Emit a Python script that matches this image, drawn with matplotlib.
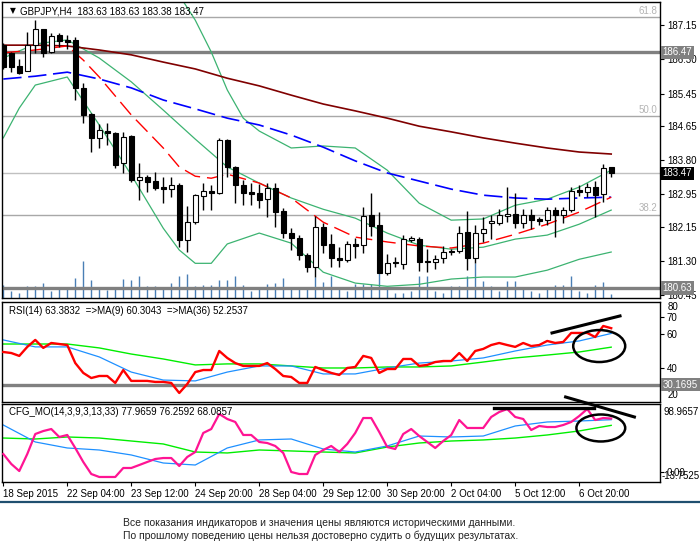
import numpy as np
import matplotlib
matplotlib.use("Agg")
import matplotlib.pyplot as plt
import matplotlib.transforms as mtransforms
from matplotlib.patches import Ellipse
from matplotlib.lines import Line2D

plt.rcParams['font.family'] = ['Liberation Sans', 'DejaVu Sans']

# ---- price data (GBPJPY H4) ----
opens = [186.65, 186.45, 186.13, 186.00, 186.65, 187.05, 186.48, 186.90, 186.77, 186.77,
         185.59, 184.94, 184.35, 184.52, 184.47, 183.73, 184.40, 183.30, 183.38, 183.28,
         183.13, 183.08, 183.18, 181.82, 182.26, 182.91, 183.03, 182.98, 184.30, 183.63,
         183.18, 183.00, 182.98, 182.83, 183.10, 182.53, 181.99, 181.86, 181.44, 181.14,
         182.14, 181.72, 181.37, 181.32, 181.72, 181.70, 182.43, 182.18, 180.99, 181.27,
         181.22, 181.82, 181.84, 181.30, 181.27, 181.37, 181.55, 181.54, 182.01, 181.37,
         181.99, 182.24, 182.24, 182.42, 182.46, 182.24, 182.44, 182.33, 182.31, 182.56,
         182.44, 182.56, 183.05, 183.00, 183.13, 182.96, 183.63]
highs = [186.70, 186.48, 186.30, 186.98, 187.27, 187.05, 186.96, 186.95, 186.90, 186.85,
         185.71, 184.97, 184.69, 184.72, 184.50, 184.50, 184.42, 183.73, 183.43, 183.50,
         183.38, 183.38, 183.22, 182.66, 182.95, 183.23, 183.18, 184.35, 184.32, 183.65,
         183.30, 183.23, 183.20, 183.23, 183.23, 182.60, 182.11, 181.93, 181.50, 182.41,
         182.24, 181.96, 181.64, 181.80, 181.88, 182.63, 182.98, 182.51, 181.47, 181.40,
         181.93, 181.92, 181.89, 181.60, 181.45, 181.67, 181.60, 182.16, 182.53, 182.19,
         182.39, 182.44, 182.58, 183.13, 182.98, 182.58, 182.58, 182.40, 182.63, 182.63,
         182.63, 183.13, 183.18, 183.23, 183.28, 183.70, 183.63]
lows = [186.05, 185.98, 185.93, 186.00, 186.45, 186.36, 186.45, 186.60, 186.55, 185.29,
        184.72, 184.00, 184.10, 184.17, 183.60, 183.48, 183.25, 182.81, 183.00, 183.07,
        182.73, 182.88, 181.64, 181.52, 182.22, 182.56, 182.56, 182.95, 183.38, 182.73,
        182.68, 182.68, 182.60, 182.38, 182.14, 181.87, 181.57, 181.32, 181.02, 180.90,
        181.49, 181.14, 181.14, 181.28, 181.38, 181.49, 181.91, 180.99, 180.94, 181.15,
        181.10, 181.78, 181.05, 181.02, 181.10, 181.25, 181.45, 181.49, 181.07, 181.24,
        181.77, 181.84, 182.19, 182.26, 182.11, 182.11, 182.09, 182.20, 182.19, 181.89,
        182.24, 182.51, 182.92, 182.88, 182.39, 182.76, 183.38]
closes = [186.11, 186.11, 185.96, 186.65, 187.05, 186.45, 186.88, 186.75, 186.73, 185.59,
          184.92, 184.35, 184.54, 184.47, 183.68, 184.37, 183.30, 183.38, 183.25, 183.10,
          183.08, 183.18, 181.82, 182.26, 182.93, 183.03, 182.98, 184.30, 183.63, 183.18,
          182.98, 182.95, 182.80, 183.10, 182.51, 181.99, 181.86, 181.44, 181.14, 182.14,
          181.69, 181.37, 181.33, 181.72, 181.68, 182.41, 182.16, 180.99, 181.24, 181.24,
          181.84, 181.87, 181.27, 181.27, 181.35, 181.52, 181.52, 181.99, 181.37, 181.99,
          182.09, 182.29, 182.44, 182.47, 182.24, 182.44, 182.31, 182.29, 182.56, 182.44,
          182.56, 183.03, 183.00, 183.13, 182.93, 183.60, 183.47]
volumes = [3330, 1670, 1250, 3080, 3080, 3750, 1830, 2250, 2250, 5000,
           9170, 4580, 2250, 2080, 2250, 4750, 4580, 5580, 3080, 3080,
           2250, 3750, 5580, 6080, 3080, 3330, 3330, 4420, 4580, 5580,
           3330, 1670, 2250, 3500, 3750, 5000, 2250, 2250, 2250, 5170,
           3920, 5420, 2250, 1670, 3500, 3500, 3500, 6250, 2250, 1250,
           1250, 1670, 5420, 5420, 1670, 1250, 2920, 2920, 5420, 8750,
           4170, 2920, 1670, 4170, 4170, 2250, 1670, 1250, 2250, 3170,
           3170, 5420, 1670, 1250, 3330, 3920, 1000]

tick_idx = [0, 8, 16, 24, 32, 40, 48, 56, 64, 72]
tick_labels = ['18 Sep 2015', '22 Sep 04:00', '23 Sep 12:00', '24 Sep 20:00', '28 Sep 04:00',
               '29 Sep 12:00', '30 Sep 20:00', '2 Oct 04:00', '5 Oct 12:00', '6 Oct 20:00']

# ---- overlays on price ----
ma_idx = [0, 4, 8, 10, 12, 16, 20, 22, 24, 26, 28, 32, 36, 40, 44, 48, 52, 56, 60, 64, 68, 72, 76]
ma_fast = [186.46, 186.53, 186.63, 186.28, 185.86, 184.92, 184.10, 183.63, 183.40, 183.35, 183.45,
           183.23, 182.86, 182.26, 181.89, 181.77, 181.67, 181.62, 181.74, 181.96, 182.21, 182.51, 182.88]

line_idx = [0, 4, 8, 12, 16, 20, 24, 28, 32, 36, 40, 44, 48, 52, 56, 60, 64, 68, 72, 76]
ma_mid = [185.81, 185.88, 185.98, 185.81, 185.59, 185.29, 185.07, 184.84, 184.67, 184.42,
          184.12, 183.78, 183.48, 183.28, 183.08, 182.93, 182.86, 182.83, 182.86, 182.88]
ma_slow = [186.65, 186.65, 186.63, 186.53, 186.41, 186.23, 186.06, 185.83, 185.64, 185.41,
           185.19, 185.02, 184.84, 184.64, 184.50, 184.35, 184.22, 184.10, 184.00, 183.95]
bb_mid = [186.33, 186.68, 186.78, 186.33, 185.74, 185.04, 184.32, 183.63, 183.23, 182.86,
          182.58, 182.36, 181.99, 181.69, 181.59, 181.64, 181.84, 181.94, 182.21, 182.56]

bb_low_idx = [0, 2, 4, 8, 12, 16, 20, 22, 24, 26, 28, 32, 36, 40, 44, 48, 52, 56, 60, 64, 68, 72, 76]
bb_low = [184.35, 185.09, 185.66, 185.86, 184.67, 183.43, 182.11, 181.57, 181.24, 181.24, 181.72,
          181.99, 181.74, 181.02, 180.75, 180.67, 180.72, 180.85, 180.90, 180.90, 181.07, 181.34, 181.52]

bb_up_idx = [0, 4, 8, 12, 16, 20, 22, 24, 26, 28, 30, 32, 36, 40, 44, 48, 52, 56, 60, 64, 68, 72, 76]
bb_up = [188.32, 188.00, 187.95, 188.30, 188.30, 188.40, 187.89, 187.27, 186.48, 185.54, 184.84,
         184.52, 184.10, 184.15, 184.10, 183.55, 182.73, 182.31, 182.34, 182.68, 182.83, 183.13, 183.55]

price_ticks = [187.15, 186.30, 185.45, 184.65, 183.80, 182.95, 182.15, 181.30, 180.45]
fib_levels = [187.35, 184.89, 182.45]
fib_names = ['61.8', '50.0', '38.2']
support_levels = [186.47, 180.63]
last_price = 183.47

# ---- RSI ----
rsi = [49.4, 48.8, 47.1, 52.4, 56.5, 51.8, 54.7, 54.1, 53.5, 42.9,
       37.1, 34.1, 35.3, 35.3, 31.2, 38.8, 32.4, 32.4, 32.4, 31.8,
       31.8, 31.2, 25.3, 30.6, 37.6, 38.8, 38.8, 50.0, 45.9, 42.9,
       41.2, 41.2, 41.2, 42.9, 39.4, 35.3, 34.7, 31.2, 31.2, 40.6,
       38.8, 37.1, 35.9, 40.0, 40.6, 47.1, 45.9, 37.1, 39.4, 39.4,
       45.3, 45.3, 41.2, 41.8, 43.5, 44.1, 44.1, 48.8, 44.1, 50.0,
       51.2, 53.5, 54.7, 53.5, 52.4, 54.7, 52.9, 53.5, 55.9, 54.7,
       55.3, 60.6, 60.6, 60.6, 58.2, 64.7, 63.4]
rsi_ma9 = [56.5, 52.4, 52.4, 46.5, 37.6, 32.9, 32.4, 37.6, 41.2, 41.2,
           36.5, 36.5, 40.0, 42.9, 44.1, 45.9, 50.0, 53.5, 55.9, 60.3]
rsi_ma36 = [54.1, 54.1, 54.1, 51.8, 48.2, 45.3, 41.8, 42.4, 42.4, 41.2,
            40.0, 40.0, 40.6, 40.6, 41.2, 43.5, 45.9, 47.6, 49.4, 52.25]
rsi_level = 30.1695

# ---- CFG_MO ----
cfg = [26.7, 12.3, 2.1, 26.7, 55.6, 59.9, 62.8, 51.3, 54.2, 35.4,
       15.2, -2.2, -6.5, -6.5, -6.5, 6.5, 6.5, 10.8, 15.2, 19.5,
       20.9, 20.9, 9.4, 22.4, 29.6, 57.1, 62.8, 84.5, 77.3, 73.0,
       54.2, 54.2, 44.1, 42.6, 38.3, 28.2, 0.7, -2.2, -2.2, 25.3,
       32.5, 38.3, 29.6, 41.2, 57.1, 78.7, 78.7, 58.5, 36.8, 33.9,
       55.6, 62.8, 52.7, 44.1, 35.4, 45.5, 54.2, 75.8, 64.3, 64.3,
       64.3, 80.2, 87.4, 91.7, 80.2, 77.3, 61.4, 67.2, 65.7, 65.7,
       68.6, 73.0, 81.6, 91.7, 75.8, 78.7, 77.97]
cfg_blue = [68.6, 44.1, 35.4, 32.5, 25.3, 13.7, 10.8, 35.4, 47.0, 48.4,
            33.9, 29.6, 38.3, 52.7, 51.3, 52.7, 67.2, 73.0, 74.4, 76.26]
cfg_green = [49.8, 48.4, 51.3, 49.8, 45.5, 41.2, 29.6, 28.2, 32.5, 31.1,
             29.6, 28.2, 36.8, 42.6, 45.5, 47.0, 49.8, 54.2, 60.0, 68.09]
cfg_max, cfg_min = 98.9657, -13.7525

W, H = 700, 552
fig = plt.figure(figsize=(W / 100, H / 100), dpi=100)


def px_axes(x0, y0, x1, y1):
    return fig.add_axes([x0 / W, 1 - y1 / H, (x1 - x0) / W, (y1 - y0) / H])


ax = px_axes(2, 2, 660, 298)
ax_rsi = px_axes(2, 302, 660, 402)
ax_cfg = px_axes(2, 404, 660, 482)

x = np.arange(len(closes))
o, h, l, c = map(np.array, (opens, highs, lows, closes))
XLIM = (-0.16, 82.1)
FS = 7

for a in (ax, ax_rsi, ax_cfg):
    a.set_xlim(*XLIM)
    for s in a.spines.values():
        s.set_color('black')
        s.set_linewidth(1)
    a.yaxis.tick_right()
    a.tick_params(axis='y', direction='out', length=3, labelsize=FS, pad=2, colors='black')
    a.tick_params(axis='x', bottom=False, labelbottom=False)

# ---- main panel ----
ax.set_ylim(180.38, 187.72)
vol_tr = mtransforms.blended_transform_factory(ax.transData, ax.transAxes)
ax.vlines(x, 0, np.array(volumes) / 74000, transform=vol_tr, color='#4a7fb5', lw=1, zorder=1)

ytr = mtransforms.blended_transform_factory(ax.transAxes, ax.transData)
for lv, nm in zip(fib_levels, fib_names):
    ax.axhline(lv, color='#a8a8a8', lw=1, zorder=1.5)
    ax.text(0.996, lv + 0.03, nm, transform=ytr, color='#b4b4b4', fontsize=FS,
            ha='right', va='bottom', zorder=2)
for lv in support_levels:
    ax.axhline(lv, color='#808080', lw=2.4, zorder=1.6)
ax.axhline(last_price, color='#c0c0c0', lw=1, zorder=1.5)

ax.plot(bb_up_idx, bb_up, color='#3cb371', lw=0.9, zorder=2)
ax.plot(line_idx, bb_mid, color='#3cb371', lw=0.9, zorder=2)
ax.plot(bb_low_idx, bb_low, color='#3cb371', lw=0.9, zorder=2)
ax.plot(line_idx, ma_slow, color='#800000', lw=1.2, zorder=2)
ax.plot(line_idx, ma_mid, color='#0000ff', lw=1.2, dashes=(11, 4), zorder=2)
ax.plot(ma_idx, ma_fast, color='#ff0000', lw=1.0, dashes=(12, 5), zorder=2)

ax.vlines(x, l, h, color='black', lw=1, zorder=3)
body_lo = np.minimum(o, c)
body_h = np.maximum(np.abs(c - o), 0.015)
ax.bar(x, body_h, bottom=body_lo, width=0.6, color=np.where(c >= o, 'white', 'black'),
       edgecolor='black', linewidth=0.8, zorder=4)

ax.set_yticks(price_ticks)
ax.set_yticklabels([f'{v:.2f}' for v in price_ticks])

for lv in support_levels:
    ax.text(1.004, lv, f'{lv:.2f}', transform=ytr, color='white', fontsize=FS, va='center', ha='left',
            bbox=dict(boxstyle='square,pad=0.18', fc='#808080', ec='none'), zorder=6)
ax.text(1.004, last_price, f'{last_price:.2f}', transform=ytr, color='white', fontsize=FS, va='center',
        ha='left', bbox=dict(boxstyle='square,pad=0.18', fc='black', ec='none'), zorder=6)

ax.text(8 / 658, 1 - 9 / 296, '\u25bc', transform=ax.transAxes, fontsize=5.5, va='center', ha='left',
        family='DejaVu Sans')
ax.text(18 / 658, 1 - 10 / 296, 'GBPJPY,H4  183.63 183.63 183.38 183.47', transform=ax.transAxes,
        fontsize=FS, va='center', ha='left')

# ---- RSI panel ----
ax_rsi.set_ylim(20, 78.8)
ax_rsi.axhline(rsi_level, color='#808080', lw=2.4, zorder=1)
ax_rsi.plot(line_idx, rsi_ma36, color='#00ee00', lw=1.0, zorder=2)
ax_rsi.plot(line_idx, rsi_ma9, color='#1e90ff', lw=0.9, zorder=2)
ax_rsi.plot(x, rsi, color='#ff0000', lw=1.7, zorder=3)
ax_rsi.set_yticks([70, 60, 40])
ax_rsi.set_yticklabels(['70', '60', '40'])
ax_rsi.text(1.012, 0.95, '80', transform=ax_rsi.transAxes, fontsize=FS, va='center', ha='left')
ax_rsi.text(1.012, 0.07, '20', transform=ax_rsi.transAxes, fontsize=FS, va='center', ha='left')
rtr = mtransforms.blended_transform_factory(ax_rsi.transAxes, ax_rsi.transData)
ax_rsi.text(1.004, rsi_level, f'{rsi_level:.4f}', transform=rtr, color='white', fontsize=FS,
            va='center', ha='left', bbox=dict(boxstyle='square,pad=0.18', fc='#808080', ec='none'))
ax_rsi.text(7 / 658, 0.91, 'RSI(14) 63.3832  =>MA(9) 60.3043  =>MA(36) 52.2537',
            transform=ax_rsi.transAxes, fontsize=FS, va='center', ha='left')
ax_rsi.plot([68.6, 77.1], [60.6, 70.6], color='black', lw=2.2, clip_on=False, zorder=5)
ax_rsi.add_patch(Ellipse((74.5, 52.9), 6.5, 18.8, fill=False, ec='black', lw=1.8, zorder=5))

# ---- CFG_MO panel ----
ax_cfg.set_ylim(cfg_min, cfg_max)
ax_cfg.plot(line_idx, cfg_green, color='#00ee00', lw=1.0, zorder=2)
ax_cfg.plot(line_idx, cfg_blue, color='#1e90ff', lw=0.9, zorder=2)
ax_cfg.plot(x, cfg, color='#ff1493', lw=1.6, zorder=3)
ax_cfg.set_yticks([0])
ax_cfg.set_yticklabels(['0.00'])
ax_cfg.text(1.005, 0.9, f'{cfg_max:.4f}', transform=ax_cfg.transAxes, fontsize=FS, va='center', ha='left')
ax_cfg.text(1.003, 0.08, f'{cfg_min:.4f}', transform=ax_cfg.transAxes, fontsize=FS, va='center', ha='left')
ax_cfg.text(7 / 658, 0.9, 'CFG_MO(14,3,9,3,13,33) 77.9659 76.2592 68.0857',
            transform=ax_cfg.transAxes, fontsize=FS, va='center', ha='left')
ax_cfg.plot([61.3, 73.9], [93.2, 93.2], color='black', lw=2.4, clip_on=False, zorder=5)
ax_cfg.plot([70.3, 78.9], [109.1, 80.2], color='black', lw=2.2, clip_on=False, zorder=5)
ax_cfg.add_patch(Ellipse((74.7, 64.3), 6.1, 39, fill=False, ec='black', lw=1.8, zorder=5))

ax_cfg.tick_params(axis='x', bottom=True, labelbottom=True, direction='out', length=3,
                   labelsize=FS, pad=2)
ax_cfg.set_xticks(tick_idx)
ax_cfg.set_xticklabels(tick_labels, ha='left')

# ---- footer ----
fig.add_artist(Line2D([0, 1], [1 - 502 / H] * 2, color='#1f4f6f', lw=1.6))
fig.text(123 / W, 1 - 523 / H, 'Все показания индикаторов и значения цены являются историческими данными.',
         fontsize=7.5, va='center', ha='left', color='#222222')
fig.text(123 / W, 1 - 536 / H, 'По прошлому поведению цены нельзя достоверно судить о будущих результатах.',
         fontsize=7.5, va='center', ha='left', color='#222222')

fig.savefig('out.png', dpi=100, facecolor='white')
